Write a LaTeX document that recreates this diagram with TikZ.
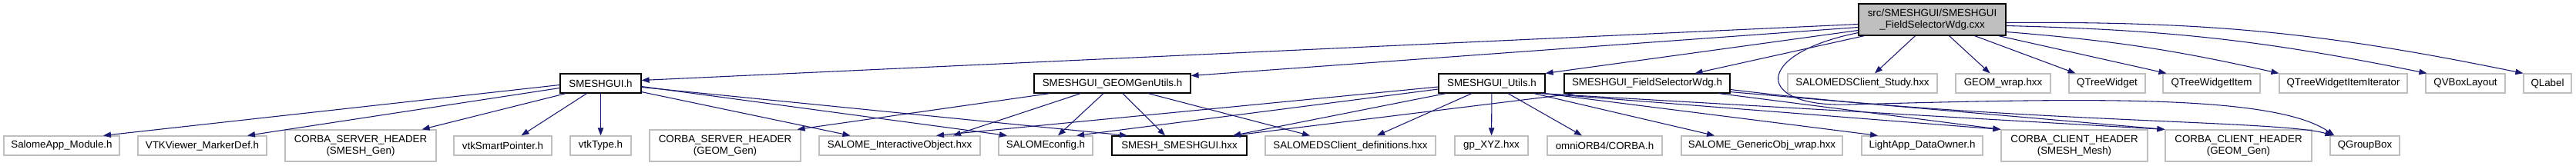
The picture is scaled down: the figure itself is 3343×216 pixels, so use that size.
\documentclass[tikz,border=0pt]{standalone}
\usepackage{fontspec}
\setmainfont{Liberation Sans}
\usetikzlibrary{arrows.meta,calc}
\definecolor{edgeblue}{HTML}{191970}
\definecolor{boxgray}{HTML}{BFBFBF}
\tikzset{
docnode/.style={rectangle,draw=black,line width=0.9pt,fill=white,inner sep=1pt,
  minimum height=18.75pt,align=center,font=\fontsize{10}{11.5}\selectfont},
extnode/.style={docnode,draw=boxgray},
srcnode/.style={docnode,fill=boxgray,minimum height=30.75pt},
twoline/.style={minimum height=30.75pt},
wd/.style={minimum width=#1*0.75pt},
incl/.style={draw=edgeblue,line width=0.8pt,-{Triangle[length=7.5pt,width=5.5pt]}}
}

\begin{document}
\begin{tikzpicture}[x=0.75pt,y=-0.75pt]
\useasboundingbox (0,0) rectangle (3343,216);
% the file itself
\node[srcnode,wd=191] (root) at (2507.5,25.5) {src/SMESHGUI/SMESHGUI\\\_FieldSelectorWdg.cxx};
% headers included directly
\node[docnode,wd=105] (smeshgui) at (779.5,108.5) {SMESHGUI.h};
\node[docnode,wd=203] (geomgen) at (1443.5,108.5) {SMESHGUI\_GEOMGenUtils.h};
\node[docnode,wd=138] (utils) at (1936,108.5) {SMESHGUI\_Utils.h};
\node[docnode,wd=215] (fieldsel) at (2137.5,108.5) {SMESHGUI\_FieldSelectorWdg.h};
\node[extnode,wd=194] (dsstudy) at (2417,108.5) {SALOMEDSClient\_Study.hxx};
\node[extnode,wd=123] (geomwrap) at (2599.5,108.5) {GEOM\_wrap.hxx};
\node[extnode,wd=99] (qtree) at (2734.5,108.5) {QTreeWidget};
\node[extnode,wd=126] (qtreeitem) at (2870,108.5) {QTreeWidgetItem};
\node[extnode,wd=166] (qtreeiter) at (3041,108.5) {QTreeWidgetItemIterator};
\node[extnode,wd=103] (qvbox) at (3199.5,108.5) {QVBoxLayout};
\node[extnode,wd=62] (qlabel) at (3306,108.5) {QLabel};
% headers one level down
\node[extnode,wd=150] (salomeapp) at (80,189.5) {SalomeApp\_Module.h};
\node[extnode,wd=167] (vtkmarker) at (262.5,189.5) {VTKViewer\_MarkerDef.h};
\node[extnode,twoline,wd=196] (srvsmesh) at (468,189.5) {CORBA\_SERVER\_HEADER\\(SMESH\_Gen)};
\node[extnode,wd=127] (vtksmart) at (652.5,189.5) {vtkSmartPointer.h};
\node[extnode,wd=79] (vtktype) at (779.5,189.5) {vtkType.h};
\node[extnode,twoline,wd=196] (srvgeom) at (941,189.5) {CORBA\_SERVER\_HEADER\\(GEOM\_Gen)};
\node[extnode,wd=209] (intobj) at (1167.5,189.5) {SALOME\_InteractiveObject.hxx};
\node[extnode,wd=122] (salomecfg) at (1357,189.5) {SALOMEconfig.h};
\node[docnode,wd=175] (smeshhxx) at (1530.5,189.5) {SMESH\_SMESHGUI.hxx};
\node[extnode,wd=221] (dsdefs) at (1752.5,189.5) {SALOMEDSClient\_definitions.hxx};
\node[extnode,wd=95] (gpxyz) at (1935.5,189.5) {gp\_XYZ.hxx};
\node[extnode,wd=149] (omniorb) at (2082.5,189.5) {omniORB4/CORBA.h};
\node[extnode,wd=209] (genobj) at (2286.5,189.5) {SALOME\_GenericObj\_wrap.hxx};
\node[extnode,wd=157] (lightapp) at (2494.5,189.5) {LightApp\_DataOwner.h};
\node[extnode,twoline,wd=190] (clismesh) at (2692,189.5) {CORBA\_CLIENT\_HEADER\\(SMESH\_Mesh)};
\node[extnode,twoline,wd=190] (cligeom) at (2905,189.5) {CORBA\_CLIENT\_HEADER\\(GEOM\_Gen)};
\node[extnode,wd=90] (qgroupbox) at (3069,189.5) {QGroupBox};
% from the .cxx
\draw[incl] ($(root.west)+(0,6)$) -- ($(smeshgui.east)+(0,-4)$);
\draw[incl] ($(root.west)+(0,10)$) -- ($(geomgen.east)+(0,-10)$);
\draw[incl] ($(root.west)+(0,14)$) -- (utils.north east);
\draw[incl] ($(root.south west)+(8,0)$) -- ($(fieldsel.north)+(62,0)$);
\draw[incl] ($(root.south west)+(0,-4)$) .. controls (2275,70) and (2275,140) .. (2400,136)
  .. controls (2700,128) and (2950,122) .. ($(qgroupbox.north west)+(6,0)$);
\draw[incl] ($(root.south)+(-22,0)$) -- ($(dsstudy.north)+(16,0)$);
\draw[incl] ($(root.south)+(22,0)$) -- ($(geomwrap.north)+(-17,0)$);
\draw[incl] ($(root.south)+(55,0)$) -- ($(qtree.north)+(-41,0)$);
\draw[incl] ($(root.south east)+(-10,0)$) -- ($(qtreeitem.north west)+(5,0)$);
\draw[incl] ($(root.east)+(0,16)$) to[bend left=4] (qtreeiter.north west);
\draw[incl] ($(root.east)+(0,8)$) to[bend left=5] ($(qvbox.north west)+(2,0)$);
\draw[incl] ($(root.east)+(0,4)$) to[bend left=6] (qlabel.north west);
% from SMESHGUI.h
\draw[incl] ($(smeshgui.west)+(0,2)$) -- ($(salomeapp.north)+(54,0)$);
\draw[incl] ($(smeshgui.west)+(0,6)$) -- ($(vtkmarker.north)+(58.5,0)$);
\draw[incl] ($(smeshgui.south west)+(8,0)$) -- ($(srvsmesh.north east)+(-19,0)$);
\draw[incl] ($(smeshgui.south)+(-18,0)$) -- ($(vtksmart.north)+(24,0)$);
\draw[incl] (smeshgui) -- (vtktype);
\draw[incl] ($(smeshgui.south east)+(0,-2)$) -- ($(intobj.north)+(-64,0)$);
\draw[incl] ($(smeshgui.east)+(0,4)$) -- ($(salomecfg.north)+(-50,0)$);
\draw[incl] ($(smeshgui.east)+(0,5)$) -- ($(smeshhxx.north)+(-67.5,0)$);
% from SMESHGUI_GEOMGenUtils.h
\draw[incl] ($(geomgen.south west)+(21,0)$) -- ($(srvgeom.north east)+(-5,0)$);
\draw[incl] ($(geomgen.south west)+(61,0)$) -- ($(intobj.north)+(69.5,0)$);
\draw[incl] ($(geomgen.south)+(-11.5,0)$) -- ($(salomecfg.north)+(16,0)$);
\draw[incl] ($(geomgen.south)+(13.5,0)$) -- ($(smeshhxx.north)+(-18.5,0)$);
\draw[incl] ($(geomgen.south)+(46.5,0)$) -- ($(dsdefs.north)+(-52.5,0)$);
% from SMESHGUI_Utils.h
\draw[incl] ($(utils.west)+(0,4.5)$) -- ($(intobj.north)+(47.5,0)$);
\draw[incl] ($(utils.west)+(0,7.5)$) -- ($(salomecfg.north)+(40,0)$);
\draw[incl] ($(utils.south west)+(10,0)$) -- ($(smeshhxx.north)+(69.5,0)$);
\draw[incl] ($(utils.south)+(-26,0)$) -- ($(dsdefs.north)+(34.5,0)$);
\draw[incl] (utils) -- (gpxyz);
\draw[incl] ($(utils.south)+(21,0)$) -- ($(omniorb.north)+(-29.5,0)$);
\draw[incl] ($(utils.south east)+(-15,0)$) -- ($(genobj.north)+(-61.5,0)$);
\draw[incl] ($(utils.south east)+(-2,0)$) -- ($(lightapp.north)+(-57.5,0)$);
\draw[incl] ($(utils.south east)+(-4,0)$) -- (clismesh.north west);
\draw[incl] ($(utils.south east)+(-6,0)$) -- (cligeom.north west);
% from SMESHGUI_FieldSelectorWdg.h
\draw[incl] ($(fieldsel.south west)+(15,0)$) -- ($(smeshhxx.north)+(69.5,0)$);
\draw[incl] ($(fieldsel.south east)+(-15,0)$) -- (clismesh.north west);
\draw[incl] ($(fieldsel.south east)+(0,-2)$) -- (cligeom.north west);
\draw[incl] ($(fieldsel.east)+(0,8)$) .. controls (2600,160) and (2960,156) .. ($(qgroupbox.north west)+(4,0)$);
\end{tikzpicture}
\end{document}
